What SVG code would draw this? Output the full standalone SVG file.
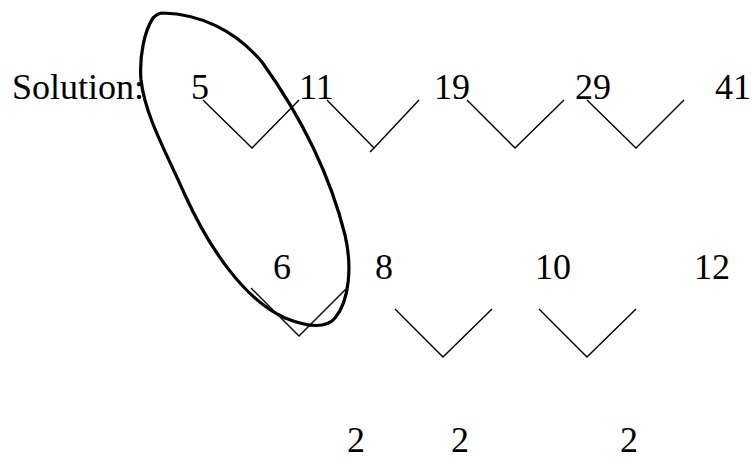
<svg xmlns="http://www.w3.org/2000/svg" width="752" height="457" viewBox="0 0 752 457">
<style>
text{font-family:'Liberation Serif','Times New Roman',serif;font-size:36px;fill:#000}
.v{fill:none;stroke:#000;stroke-width:1.4}
.loop{fill:none;stroke:#000;stroke-width:3.2;stroke-linejoin:round}
</style>
<rect width="752" height="457" fill="#fff"/>
<g id="label"><text x="12" y="99">Solution:</text></g>
<g id="n5"><text x="191" y="99">5</text></g>
<g id="n11"><text x="299" y="99">11</text></g>
<g id="n19"><text x="434" y="99">19</text></g>
<g id="n29"><text x="575" y="99">29</text></g>
<g id="n41"><text x="715" y="99">41</text></g>
<g id="d6"><text x="273" y="279">6</text></g>
<g id="d8"><text x="375" y="279">8</text></g>
<g id="d10"><text x="535" y="279">10</text></g>
<g id="d12"><text x="694" y="279">12</text></g>
<g id="s1"><text x="347" y="452">2</text></g>
<g id="s2"><text x="451" y="452">2</text></g>
<g id="s3"><text x="620" y="452">2</text></g>
<g id="connectors">
<polyline class="v" points="203,100 252,148 299,100"/>
<polyline class="v" points="327,100 374,148 419,100"/>
<line class="v" x1="374" y1="148" x2="370" y2="152"/>
<polyline class="v" points="467,100 515,148 564,100"/>
<polyline class="v" points="587,100 636,148 684,100"/>
<polyline class="v" points="251,288 299,336 346,289"/>
<polyline class="v" points="395,309 443,357 492,309"/>
<polyline class="v" points="539,309 587,357 636,309"/>
</g>
<g id="circle">
<path class="loop" d="M163,13 C200,14 235,30 262,62 C300,115 330,175 345,235 C352,265 350,300 335,318 C325,330 305,326 285,318 C245,300 210,250 185,195 C165,150 145,115 141,80 C139,55 145,30 153,18 C156,15 159,13 163,13 Z"/>
</g>
</svg>
